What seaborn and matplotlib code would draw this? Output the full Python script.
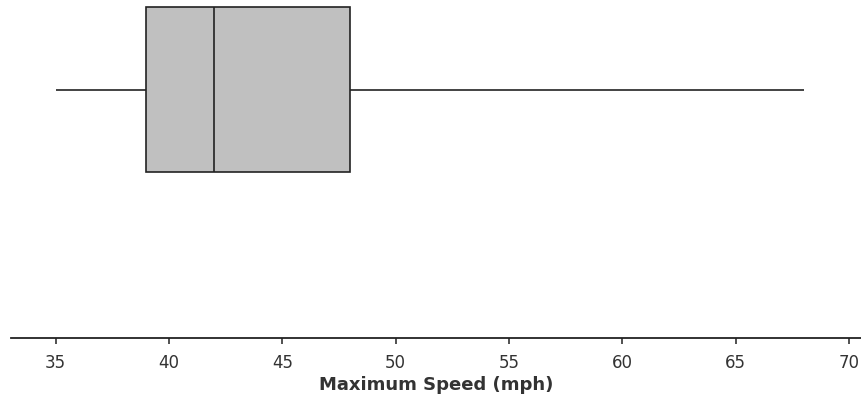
import matplotlib
matplotlib.use("Agg")
import matplotlib.pyplot as plt
import seaborn as sns
import numpy as np

# Data: five-number summary (min, Q1, median, Q3, max)
speeds = [35, 39, 42, 48, 68]
tick_values = [35, 40, 45, 50, 55, 60, 65, 70]
x_label = "Maximum Speed (mph)"

sns.set_style("white")
plt.rcParams['font.family'] = ['DejaVu Sans']

fig = plt.figure(figsize=(8.61, 4.02), dpi=100)
ax = fig.add_axes([11 / 861, (402 - 339) / 402, 1 - 11 / 861, 339 / 402])

sns.boxplot(x=speeds, orient="h", whis=(0, 100), showcaps=False, showfliers=False,
            color="#C0C0C0", saturation=1, linecolor="#222222", linewidth=1.2,
            width=0.8, ax=ax)

ax.set_xlim(33.03, 70.53)
ax.set_ylim(1.2048, -0.4388)
ax.set_xticks(tick_values)
ax.set_xticklabels([str(v) for v in tick_values])
ax.set_yticks([])
for s in ["top", "right", "left"]:
    ax.spines[s].set_visible(False)
ax.spines["bottom"].set_color("#222222")
ax.spines["bottom"].set_linewidth(1.3)
ax.tick_params(axis="x", direction="out", length=4.5, width=1.1, color="#222222",
               labelsize=12, labelcolor="#333333", pad=6.5, bottom=True)
ax.set_xlabel(x_label, fontsize=13, fontweight="bold", color="#333333", labelpad=3)

fig.savefig("out.png", dpi=100)
